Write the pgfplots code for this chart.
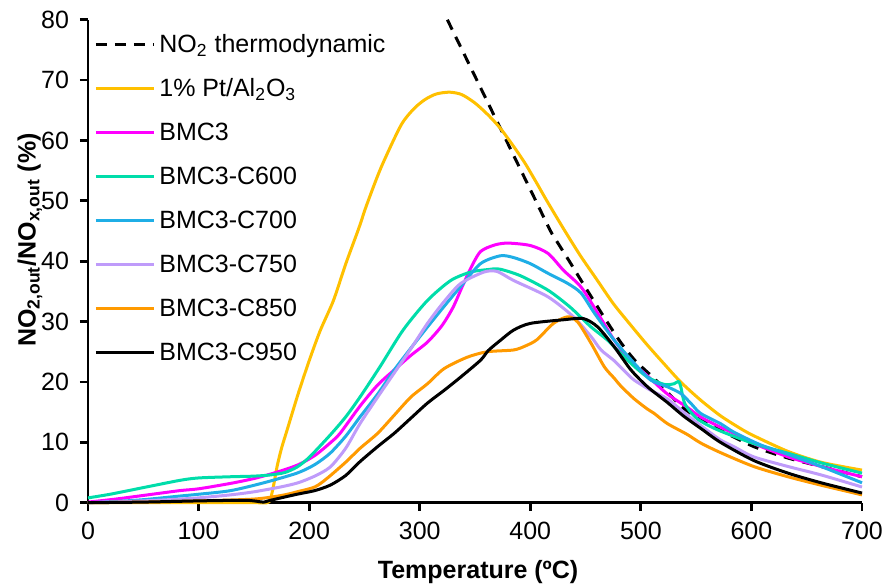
\documentclass[border=0pt]{standalone}
\usepackage{fontspec}
\setmainfont{Liberation Sans}
\usepackage{pgfplots}
\pgfplotsset{compat=1.18}
\definecolor{cgold}{HTML}{FFC000}
\definecolor{cmag}{HTML}{FF00FF}
\definecolor{cteal}{HTML}{00DDAA}
\definecolor{cblue}{HTML}{1FAEE6}
\definecolor{clav}{HTML}{BF9BFA}
\definecolor{corange}{HTML}{FF9A00}
\begin{document}
\begin{tikzpicture}
\begin{axis}[
  at={(0pt,0pt)}, anchor=south west,
  scale only axis, width=387pt, height=241.5pt,
  xmin=0, xmax=700, ymin=0, ymax=80,
  xtick={0,100,...,700}, ytick={0,10,...,80},
  axis lines*=left,
  axis line style={line width=1.4pt, black},
  tick style={line width=1.4pt, black},
  major tick length=4pt, tick align=outside,
  clip=false,
  /pgf/number format/assume math mode=true,
  tick label style={font=\fontsize{12.5}{14}\selectfont},
  yticklabel style={xshift=-2pt},
  xticklabel style={yshift=-2pt},
  xlabel={\textbf{Temperature (ºC)}},
  ylabel={\textbf{NO\textsubscript{2,out}/NO\textsubscript{x,out} (\%)}},
  label style={font=\fontsize{12.5}{14}\selectfont},
  xlabel style={at={(axis description cs:0.504,-0.1435)}, anchor=center},
  ylabel style={at={(axis description cs:-0.075,0.544)}, anchor=center},
  legend cell align=left,
  legend style={draw=none, fill=none, at={(axis description cs:0.0,0.99)}, anchor=north west,
    font=\fontsize{12.5}{14}\selectfont, row sep=6pt,
    nodes={text height=10pt, text depth=2pt, inner sep=2pt}},
  legend image code/.code={\draw[#1] (0pt,0pt) -- (29pt,0pt);},
  every axis plot/.append style={line width=1.5pt, line join=round, smooth, tension=0.45},
]
\addplot[black, dash pattern=on 5.5pt off 4pt] coordinates {
(325,80) (345,72.5) (365,65) (385,57.5) (405,50) (418,45.1) (425,43) (436,39.8) (446,36.8) (461,32.4) (470,29.8) (482,26.5) (495,23.5) (512,20.6) (524,18.3) (539,15.6) (556,13.6) (572,12) (602,9.3) (633,7.4) (663,6) (700,4.3)};
\addlegendentry{NO\textsubscript{2} thermodynamic}
\addplot[cgold] coordinates {
(0,0) (100,0) (150,0) (162,0) (165,0.6) (168,3) (171,6) (175,9) (180,12) (190,18) (200,23.5) (210,28.5) (222,33.5) (233,39.5) (245,45.5) (252,49.3) (265,55.5) (283,62.5) (295,65.3) (305,66.8) (315,67.7) (327,68) (338,67.6) (350,66.2) (362,64.2) (373,62) (385,59) (395,56.3) (405,53.2) (415,50) (430,45.4) (445,41) (460,37) (475,33) (490,29.6) (505,26.3) (520,23.2) (536,20.0) (554,17.0) (572,14.4) (590,12.3) (602,11.1) (633,8.5) (663,6.7) (700,5.4)};
\addlegendentry{1\% Pt/Al\textsubscript{2}O\textsubscript{3}}
\addplot[cmag] coordinates {
(0,0.1) (25,0.6) (50,1.2) (83,2.0) (100,2.3) (129,3.2) (150,4.0) (168,4.9) (189,6.2) (205,7.8) (219,9.9) (228,11.5) (246,16) (262,19.5) (277,22) (292,24.4) (307,26.6) (320,29.3) (330,32.3) (338,35.6) (346,38.8) (355,41.6) (368,42.7) (380,43) (400,42.6) (416,41.3) (430,38.5) (446,35.7) (461,31.4) (476,26.9) (491,23.4) (506,21) (524,18) (542,15.8) (554,14.2) (572,12.5) (584,11.5) (602,9.8) (633,7.6) (663,6.0) (700,4.3)};
\addlegendentry{BMC3}
\addplot[cteal] coordinates {
(0,0.8) (20,1.4) (50,2.5) (83,3.7) (100,4.1) (129,4.3) (150,4.4) (165,4.6) (178,5.0) (189,5.9) (200,7.5) (219,11.2) (233,14.2) (246,17.5) (264,22.5) (285,28.6) (307,33.5) (328,36.8) (346,38.2) (361,38.6) (372,38.7) (391,37.6) (416,35.2) (436,32.4) (455,29.1) (470,26.9) (491,23.1) (506,20.8) (521,19.6) (530,19.7) (534,20.1) (536,19.3) (540,16.3) (551,13.9) (569,12.1) (602,9.8) (633,8.2) (663,6.6) (700,4.9)};
\addlegendentry{BMC3-C600}
\addplot[cblue] coordinates {
(0,0) (25,0.2) (50,0.5) (83,1.1) (100,1.4) (129,2.0) (159,3.3) (189,4.9) (205,6.3) (219,8.2) (233,11) (246,14.2) (262,18) (277,22) (292,25.6) (307,29.1) (322,32.5) (337,35.8) (355,39.6) (373,40.9) (385,40.6) (400,39.6) (416,38) (434,36.3) (446,34.7) (458,31.4) (476,26.9) (494,23.1) (509,20.3) (524,19.2) (536,18.1) (545,16.5) (554,14.8) (572,13.1) (584,11.7) (608,9.6) (633,8.0) (663,6) (700,3.3)};
\addlegendentry{BMC3-C700}
\addplot[clav] coordinates {
(0,0) (50,0.3) (83,0.6) (100,0.8) (129,1.3) (150,1.8) (174,2.6) (190,3.3) (205,4.4) (219,5.9) (233,9) (246,13.1) (262,17.5) (277,21.5) (292,25.5) (307,29.7) (322,33.3) (337,36.3) (358,38.2) (370,38.3) (385,36.8) (416,34.1) (439,30.8) (455,27.5) (464,25.3) (476,23.5) (488,21.3) (494,20.3) (509,18.6) (524,17.2) (542,14.5) (554,12.8) (572,10.4) (584,9.3) (602,7.6) (633,6.0) (663,4.6) (700,2.6)};
\addlegendentry{BMC3-C750}
\addplot[corange] coordinates {
(0,0) (50,0.1) (100,0.3) (150,0.6) (175,1.2) (189,1.8) (205,2.6) (216,4) (233,6.7) (246,9) (262,11.5) (277,14.5) (292,17.5) (307,19.7) (322,22.2) (343,24.1) (361,25) (385,25.3) (396,26) (406,27) (421,29.7) (434,30.8) (443,29.9) (455,26.4) (467,22.5) (476,20.6) (482,19.3) (494,17.2) (506,15.5) (512,14.8) (524,13.1) (542,11.3) (554,9.9) (572,8.3) (602,6) (633,4.3) (663,2.9) (700,1.3)};
\addlegendentry{BMC3-C850}
\addplot[black] coordinates {
(0,0) (50,0.1) (100,0.3) (140,0.4) (150,0.3) (159,0.1) (165,0.4) (189,1.4) (205,2) (219,2.9) (233,4.5) (246,6.8) (262,9.3) (277,11.5) (292,14) (307,16.5) (322,18.6) (337,20.8) (355,23.6) (362,25.2) (373,26.9) (385,28.6) (400,29.7) (430,30.3) (448,30.5) (461,29.1) (476,25.8) (491,22) (506,19.2) (524,16.6) (539,14.3) (555,12.2) (572,10.0) (602,7) (633,4.9) (663,3.3) (700,1.6)};
\addlegendentry{BMC3-C950}
\end{axis}
\pgfresetboundingbox
\path[use as bounding box] (-44pt,-41.15pt) rectangle (398.5pt,251.35pt);
\end{tikzpicture}
\end{document}
